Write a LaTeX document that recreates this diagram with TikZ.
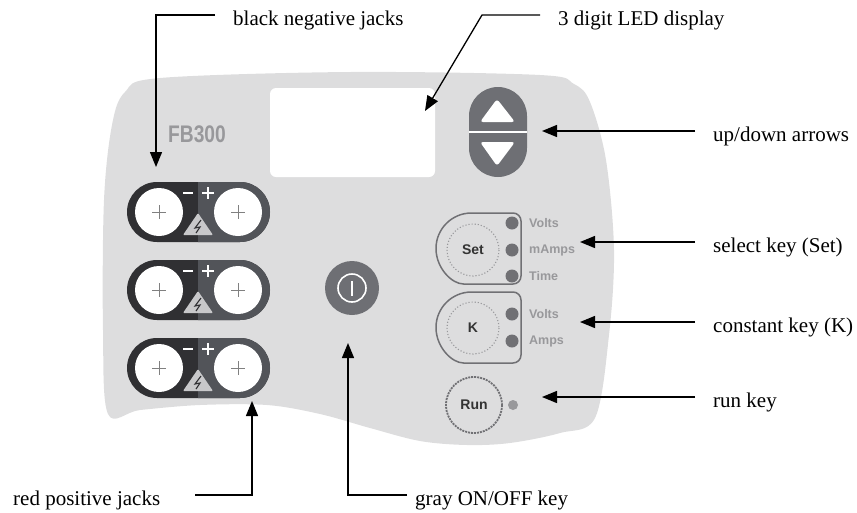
\documentclass[tikz,border=0pt]{standalone}
\usepackage{fontspec}
\setmainfont{Liberation Serif}
\newfontfamily\panelfont{Liberation Sans}
\usetikzlibrary{arrows.meta, calc}
\definecolor{PanelGray}{RGB}{221,221,222}
\definecolor{JackDark}{RGB}{48,48,51}
\definecolor{JackMid}{RGB}{82,84,89}
\definecolor{KeyGray}{RGB}{110,111,116}
\definecolor{PrintGray}{RGB}{152,152,155}
\definecolor{LineGray}{RGB}{112,112,116}
\definecolor{WarnGray}{RGB}{200,200,202}

\begin{document}
\begin{tikzpicture}[
    x=1pt, y=-1pt,
    callout/.style={
        anchor=west,
        inner sep=0pt,
        text height=21pt,          % centre of the node sits on the leader line
        text depth=0pt,
        font=\fontsize{21}{25}\selectfont
    },
    pointer/.style={
        -{Triangle[length=15pt, width=12pt]},
        line width=1.3pt,
        draw=black
    },
    brand/.style={
        font=\panelfont\bfseries\fontsize{24}{24}\selectfont,
        text=PrintGray,
        inner sep=0pt
    },
    keytext/.style={
        font=\panelfont\bfseries\fontsize{14}{14}\selectfont,
        text=black!80,
        inner sep=0pt
    },
    ledtext/.style={
        font=\panelfont\bfseries\fontsize{12.5}{13}\selectfont,
        text=PrintGray,
        anchor=west,
        inner sep=0pt
    },
    group/.style={
        draw=LineGray,
        line width=1.5pt
    },
    dial/.style={
        draw=PrintGray,
        dotted,
        line width=1.1pt
    }
]

    % --- 1. Panel ---
    \useasboundingbox (0,0) rectangle (857,512);
    \fill[PanelGray] plot[smooth cycle, tension=0.55] coordinates {
        (125,92) (160,78) (350,72) (540,75) (574,84) (590,102) (606,160)
        (614,250) (609,335) (595,418) (560,433) (510,443) (467,445)
        (420,441) (370,428) (320,414) (267,405) (200,405) (140,410)
        (108,414) (103,330) (104,200) (112,125)};

    % display window and brand
    \fill[white, rounded corners=6pt] (270,88) rectangle (435,177);
    \node[brand] (brand) at (197,134) {\scalebox{0.8}[1]{FB300}};

    % --- 2. Up/down key ---
    \fill[KeyGray, rounded corners=29pt] (469,87) rectangle (527,177);
    \draw[white, line width=1.5pt] (469,132) -- (527,132);
    \fill[white, rounded corners=3pt] (497,99) -- (515,122) -- (480,122) -- cycle;
    \fill[white, rounded corners=3pt] (480,142) -- (515,142) -- (497,166) -- cycle;

    % --- 3. Jacks ---
    \foreach \y in {212,290,368} {
        \fill[JackDark, rounded corners=30pt] (127,\y-30) rectangle (270,\y+30);
        \begin{scope}
            \clip (198,\y-32) rectangle (272,\y+32);
            \fill[JackMid, rounded corners=30pt] (127,\y-30) rectangle (270,\y+30);
        \end{scope}
        \fill[white] (159,\y) circle[radius=24];
        \fill[white] (238,\y) circle[radius=24];
        \draw[gray, line width=0.8pt] (152,\y) -- (166,\y) (159,\y-7) -- (159,\y+7);
        \draw[gray, line width=0.8pt] (231,\y) -- (245,\y) (238,\y-7) -- (238,\y+7);
        \draw[white, line width=2.2pt] (183,\y-19) -- (193,\y-19);
        \draw[white, line width=2.2pt] (202,\y-19) -- (214,\y-19) (208,\y-25) -- (208,\y-13);
        \fill[WarnGray, rounded corners=1pt] (198,\y+1) -- (213,\y+23) -- (183,\y+23) -- cycle;
        \draw[JackDark, line width=1.1pt] (201,\y+8) -- (195,\y+16) -- (200,\y+15) -- (196,\y+21);
    }

    % --- 4. ON/OFF key ---
    \fill[KeyGray] (352,288) circle[radius=27];
    \draw[white, line width=1.6pt] (352,288) circle[radius=14];
    \draw[white, line width=1.6pt] (352,281) -- (352,296);

    % --- 5. Set, K and Run keys ---
    \draw[group] (471.5,213) [rounded corners=8pt] -- (521,213) -- (521,284) -- (471.5,284)
        [sharp corners] arc[start angle=90, end angle=270, radius=35.5] -- cycle;
    \draw[dial] (473,250) circle[radius=26];
    \node[keytext] (setkey) at (473,250) {Set};
    \foreach \y in {223,250,276} \fill[LineGray] (512,\y) circle[radius=6.5];
    \node[ledtext] (setvolts) at (529,223) {Volts};
    \node[ledtext] (setamps) at (529,250) {mAmps};
    \node[ledtext] (settime) at (529,276) {Time};

    \draw[group] (471.5,292) [rounded corners=8pt] -- (521,292) -- (521,363) -- (471.5,363)
        [sharp corners] arc[start angle=90, end angle=270, radius=35.5] -- cycle;
    \draw[dial] (473,328) circle[radius=26];
    \node[keytext] (kkey) at (473,328) {K};
    \foreach \y in {314,341} \fill[LineGray] (512,\y) circle[radius=6.5];
    \node[ledtext] (kvolts) at (529,314) {Volts};
    \node[ledtext] (kamps) at (529,341) {Amps};

    \draw[LineGray, line width=1.8pt, dash pattern=on 2pt off 1pt] (474,405) circle[radius=28];
    \node[keytext] (runkey) at (474,405) {Run};
    \fill[PrintGray] (513,405) circle[radius=5];

    % --- 6. Callouts ---
    \node[callout] (negjacks) at (233,15) {black negative jacks};
    \node[callout] (ledlabel) at (558,15) {3 digit LED display};
    \node[callout] (arrowlabel) at (713,131) {up/down arrows};
    \node[callout] (setlabel) at (713,242) {select key (Set)};
    \node[callout] (klabel) at (713,322) {constant key (K)};
    \node[callout] (runlabel) at (713,397) {run key};
    \node[callout] (poslabel) at (13,495) {red positive jacks};
    \node[callout] (onofflabel) at (415,495) {gray ON/OFF key};

    \coordinate (negtip) at (156,167);
    \coordinate (ledtip) at (425,111);
    \coordinate (updowntip) at (542,131);
    \coordinate (settip) at (580,242);
    \coordinate (ktip) at (580,322);
    \coordinate (runtip) at (542,397);
    \coordinate (postip) at (252,401);
    \coordinate (onofftip) at (348,343);

    \draw[pointer] ([xshift=-18pt]negjacks.west) -| (negtip);
    \draw[pointer] ([xshift=-18pt]ledlabel.west) -- ++(-58,0) -- (ledtip);
    \draw[pointer] ([xshift=-18pt]arrowlabel.west) -- (updowntip);
    \draw[pointer] ([xshift=-18pt]setlabel.west) -- (settip);
    \draw[pointer] ([xshift=-18pt]klabel.west) -- (ktip);
    \draw[pointer] ([xshift=-18pt]runlabel.west) -- (runtip);
    \draw[pointer] ([xshift=35pt]poslabel.east) -| (postip);
    \draw[pointer] ([xshift=-8pt]onofflabel.west) -| (onofftip);

\end{tikzpicture}
\end{document}
